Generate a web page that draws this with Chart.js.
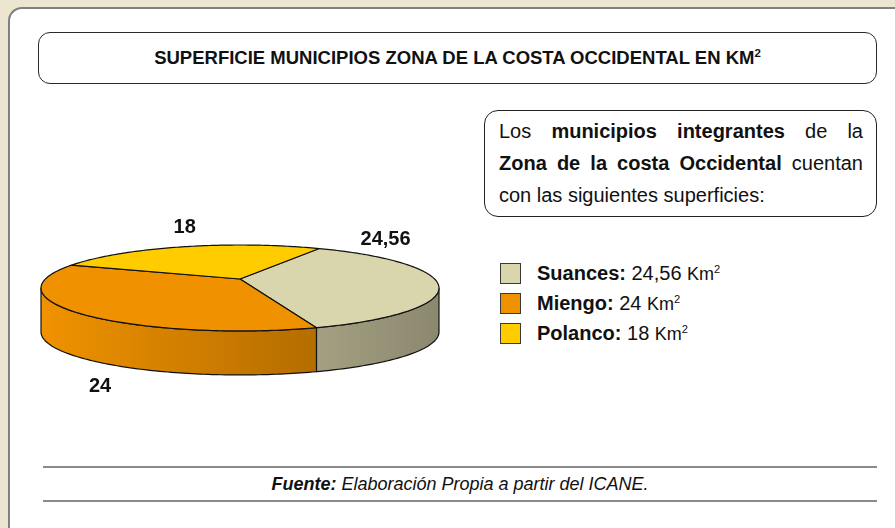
<!DOCTYPE html>
<html><head><meta charset="utf-8">
<script src="https://cdn.jsdelivr.net/npm/chart.js@4.4.1/dist/chart.umd.min.js"></script>
<style>
html,body{margin:0;padding:0;}
body{width:895px;height:528px;overflow:hidden;background:#ECE6D1;position:relative;font-family:"Liberation Sans",Arial,Helvetica,sans-serif;color:#111;}
#card{position:absolute;left:8px;top:7px;width:910px;height:560px;background:#fff;border-left:2px solid #808080;border-top:2px solid #808080;border-top-left-radius:14px;box-sizing:border-box;}
#title{position:absolute;left:38px;top:32px;width:839px;height:52px;box-sizing:border-box;border:1.5px solid #2a2a2a;border-radius:12px;text-align:center;font-weight:bold;font-size:18.5px;line-height:50px;white-space:nowrap;}
sup{font-size:0.62em;vertical-align:0.6em;line-height:0;}
#tbox{position:absolute;left:484px;top:110px;width:393px;height:107px;box-sizing:border-box;border:1.5px solid #222;border-radius:14px;padding:4px 13px 0 14px;font-size:20px;line-height:32px;}
.j{text-align:justify;text-align-last:justify;white-space:nowrap;}
.lg{position:absolute;left:500px;height:21px;width:300px;}
.sw{position:absolute;left:0;top:0;width:21px;height:21px;border:1px solid #3a3a3a;box-sizing:border-box;}
.lt{position:absolute;left:37px;top:0;white-space:nowrap;font-size:20px;line-height:21px;}
.km{font-size:18px;}
.hr{position:absolute;left:43px;width:834px;height:0;border-top:2px solid #8a8a8a;}
#src{position:absolute;left:43px;width:834px;top:474px;text-align:center;font-style:italic;font-size:18px;line-height:20px;}
#pie{position:absolute;left:0;top:149px;}
</style></head>
<body>
<div id="card"></div>
<div id="title">SUPERFICIE MUNICIPIOS ZONA DE LA COSTA OCCIDENTAL EN KM<sup>2</sup></div>
<div id="tbox">
<div class="j">Los <b>municipios integrantes</b> de la</div>
<div class="j"><b>Zona de la costa Occidental</b> cuentan</div>
<div>con las siguientes superficies:</div>
</div>
<div id="legend"></div>
<div class="hr" style="top:466px"></div>
<div id="src"><b>Fuente:</b> Elaboración Propia a partir del ICANE.</div>
<div class="hr" style="top:500px"></div>
<canvas id="pie" width="480" height="260"></canvas>
<script>
const municipios = ['Suances', 'Miengo', 'Polanco'];
const superficies = [24.56, 24, 18];
const colores = ['#D9D5AD', '#F09200', '#FFCC00'];
const unidad = 'Km';

const fmt = v => String(v).replace('.', ',');

// legend
const legendRows = [273, 303, 333];
const lg = document.getElementById('legend');
municipios.forEach((m, i) => {
  const row = document.createElement('div');
  row.className = 'lg';
  row.style.top = (legendRows[i] - 10) + 'px';
  row.innerHTML = '<div class="sw" style="background:' + colores[i] + '"></div>' +
    '<div class="lt"><b>' + m + ':</b> ' + fmt(superficies[i]) + ' <span class="km">' + unidad + '<sup>2</sup></span></div>';
  lg.appendChild(row);
});

function shade(hex, f) {
  const n = parseInt(hex.slice(1), 16);
  const r = Math.round(((n >> 16) & 255) * f), g = Math.round(((n >> 8) & 255) * f), b = Math.round((n & 255) * f);
  return 'rgb(' + r + ',' + g + ',' + b + ')';
}

const pie3d = {
  id: 'pie3d',
  beforeDatasetsDraw(chart, args, o) {
    const ctx = chart.ctx, arcs = chart.getDatasetMeta(0).data;
    if (!arcs.length) return false;
    const cx = arcs[0].x, cy = arcs[0].y;
    const proj = (t, dy) => { const u = Math.cos(t), v = Math.sin(t), w = 1 + o.persp * v; return [cx + o.kx * u / w, cy + o.ky * v / w + dy]; };
    const step = Math.PI / 180;
    const rim = (a, b, dy, rev) => {
      const n = Math.max(2, Math.ceil(Math.abs(b - a) / step)); const pts = [];
      for (let i = 0; i <= n; i++) pts.push(proj(a + (b - a) * i / n, dy));
      if (rev) pts.reverse(); return pts;
    };
    const s0 = Math.asin(-o.persp), s1 = Math.PI - s0;
    const half = o.kx / Math.sqrt(1 - o.persp * o.persp);
    const left = cx - half, right = cx + half;
    ctx.save();
    ctx.lineWidth = 1.2; ctx.strokeStyle = '#111'; ctx.lineJoin = 'round';
    arcs.forEach((el, i) => {
      const col = colores[i];
      for (const k of [-2 * Math.PI, 0, 2 * Math.PI]) {
        const a = Math.max(el.startAngle + k, s0), b = Math.min(el.endAngle + k, s1);
        if (b <= a) continue;
        const pts = rim(a, b, 0, false).concat(rim(a, b, o.depth, true));
        ctx.beginPath();
        pts.forEach((p, j) => j ? ctx.lineTo(p[0], p[1]) : ctx.moveTo(p[0], p[1]));
        ctx.closePath();
        const g = ctx.createLinearGradient(left, 0, right, 0);
        g.addColorStop(0, shade(col, o.shadeL)); g.addColorStop(1, shade(col, o.shadeR));
        ctx.fillStyle = g; ctx.fill(); ctx.stroke();
      }
    });
    arcs.forEach((el, i) => {
      const pts = rim(el.startAngle, el.endAngle, 0, false);
      ctx.beginPath(); ctx.moveTo(cx, cy);
      pts.forEach(p => ctx.lineTo(p[0], p[1]));
      ctx.closePath();
      ctx.fillStyle = colores[i]; ctx.fill(); ctx.stroke();
    });
    ctx.restore();
    return false;
  },
  afterDraw(chart, args, o) {
    const ctx = chart.ctx, arcs = chart.getDatasetMeta(0).data;
    const ds = chart.data.datasets[0].data;
    ctx.save();
    ctx.font = 'bold 20px "Liberation Sans", Arial, sans-serif';
    ctx.fillStyle = '#111'; ctx.textAlign = 'center'; ctx.textBaseline = 'middle';
    arcs.forEach((el, i) => {
      const m = (el.startAngle + el.endAngle) / 2;
      const u = Math.cos(m), v = Math.sin(m), w = 1 + o.persp * v;
      const x = el.x + o.kx * u / w + o.labelOffsets[i][0];
      const y = el.y + o.ky * v / w + o.labelOffsets[i][1];
      ctx.fillText(fmt(ds[i]), x, y);
    });
    ctx.restore();
  }
};

new Chart(document.getElementById('pie'), {
  type: 'pie',
  data: { labels: municipios, datasets: [{ data: superficies, backgroundColor: colores, borderWidth: 0 }] },
  options: {
    responsive: false, animation: false, events: [],
    rotation: 28.8,
    layout: { padding: 0 },
    plugins: {
      legend: { display: false }, tooltip: { enabled: false },
      pie3d: { kx: 194.6, ky: 41.1, persp: -0.209, depth: 44, shadeL: 1.0, shadeR: 0.64,
               labelOffsets: [[-52, -43], [25, 74], [0, -19]] }
    }
  },
  plugins: [pie3d]
});
</script>
</body></html>
